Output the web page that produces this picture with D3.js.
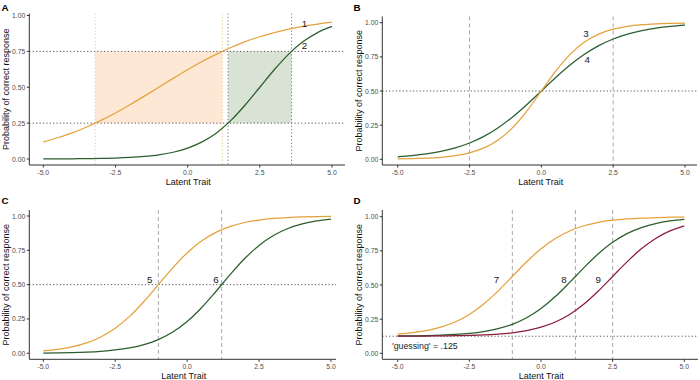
<!DOCTYPE html>
<html>
<head>
<meta charset="utf-8">
<script src="https://cdn.jsdelivr.net/npm/d3@7"></script>
<style>
  body { margin: 0; background: #fff; }
  svg { display: block; font-family: "Liberation Sans", Arial, sans-serif; }
</style>
</head>
<body>
<div id="irt-figure"></div>
<script>
// latent trait grid the curves were read at
const traitPoints = [-5, -4.5, -4, -3.5, -3, -2.5, -2, -1.5, -1, -0.5, 0, 0.5, 1, 1.5, 2, 2.5, 3, 3.5, 4, 4.5, 5];

const xTicks = [-5, -2.5, 0, 2.5, 5];
const xTickLabels = ["-5.0", "-2.5", "0.0", "2.5", "5.0"];
const yTicks = [0, 0.25, 0.5, 0.75, 1];
const yTickLabels = ["0.00", "0.25", "0.50", "0.75", "1.00"];

// panel A
const curveA1 = [0.119, 0.148, 0.182, 0.223, 0.269, 0.321, 0.378, 0.438, 0.500, 0.562, 0.622, 0.679, 0.731, 0.777, 0.818, 0.852, 0.881, 0.905, 0.924, 0.940, 0.953];
const curveA2 = [0.0006, 0.0009, 0.0015, 0.0025, 0.0041, 0.0067, 0.011, 0.018, 0.029, 0.047, 0.076, 0.119, 0.182, 0.269, 0.378, 0.500, 0.622, 0.731, 0.818, 0.881, 0.924];
// panel B
const curveB3 = [0.0025, 0.0045, 0.0082, 0.0148, 0.0266, 0.0474, 0.0832, 0.1419, 0.2315, 0.3543, 0.500, 0.6457, 0.7685, 0.8581, 0.9168, 0.9526, 0.9734, 0.9852, 0.9918, 0.9955, 0.9975];
const curveB4 = [0.018, 0.0266, 0.0392, 0.0573, 0.0832, 0.1192, 0.168, 0.2315, 0.310, 0.4013, 0.500, 0.5987, 0.690, 0.7685, 0.832, 0.8808, 0.9168, 0.9427, 0.9608, 0.9734, 0.982];
// panel C
const curveC5 = [0.018, 0.0293, 0.0474, 0.0759, 0.1192, 0.1824, 0.2689, 0.3775, 0.500, 0.6225, 0.7311, 0.8176, 0.8808, 0.9241, 0.9526, 0.9707, 0.982, 0.989, 0.9933, 0.9959, 0.9975];
const curveC6 = [0.002, 0.0033, 0.0055, 0.009, 0.0148, 0.0241, 0.0392, 0.063, 0.0998, 0.1545, 0.2315, 0.3318, 0.4502, 0.5744, 0.690, 0.7858, 0.8581, 0.9089, 0.9427, 0.9644, 0.9781];
// panel D
const curveD7 = [0.1408, 0.1506, 0.1665, 0.1914, 0.2293, 0.2846, 0.3603, 0.4553, 0.5625, 0.6697, 0.7647, 0.8404, 0.8957, 0.9336, 0.9585, 0.9744, 0.9843, 0.9904, 0.9941, 0.9964, 0.9978];
const curveD8 = [0.1268, 0.1279, 0.1298, 0.1329, 0.138, 0.1461, 0.1593, 0.1801, 0.2123, 0.2602, 0.3276, 0.4153, 0.5189, 0.6276, 0.7288, 0.8126, 0.8758, 0.9203, 0.9499, 0.9689, 0.9808];
const curveD9 = [0.1255, 0.1258, 0.1263, 0.1272, 0.1286, 0.1309, 0.1346, 0.1408, 0.1504, 0.1661, 0.1915, 0.2291, 0.2843, 0.3604, 0.4557, 0.5625, 0.6693, 0.7646, 0.8408, 0.8959, 0.9335];

// reference lines / regions
const bandsA = [[-3.2, 1.2], [1.4, 3.6]];
const hLinesA = [0.25, 0.75];
const hLinesB = [0.5];
const vLinesB = [-2.5, 2.5];
const hLinesC = [0.5];
const vLinesC = [-1, 1.2];
const hLinesD = [0.125];
const vLinesD = [-1, 1.2, 2.5];

const itemLabels = {
  A: [["1", 4.05, 0.945], ["2", 4.05, 0.79]],
  B: [["3", 1.55, 0.92], ["4", 1.6, 0.73]],
  C: [["5", -1.3, 0.54], ["6", 1.0, 0.54]],
  D: [["7", -1.55, 0.54], ["8", 0.8, 0.54], ["9", 2.0, 0.54]]
};

const orange = "#E5A13B", green = "#2A5E2C", maroon = "#8C1D3B";

const svg = d3.select("#irt-figure").append("svg")
    .attr("width", 700).attr("height", 380);

function drawPanel(p) {
  const g = svg.append("g");
  const x = d3.scaleLinear().domain([-5, 5]).range([p.x0, p.x1]);
  const y = d3.scaleLinear().domain([0, 1]).range([p.y0, p.y1]);

  // shaded regions
  (p.bands || []).forEach((b, i) => {
    g.append("rect")
      .attr("x", x(b[0])).attr("width", x(b[1]) - x(b[0]))
      .attr("y", y(0.75)).attr("height", y(0.25) - y(0.75))
      .attr("fill", i == 0 ? "#FDE8D6" : "#D8E3D5");
  });

  // horizontal reference lines
  (p.hLines || []).forEach(v => {
    g.append("line")
      .attr("x1", p.axisX).attr("x2", p.xEnd)
      .attr("y1", y(v)).attr("y2", y(v))
      .attr("stroke", "#555").attr("stroke-width", 1)
      .attr("stroke-dasharray", "1.2,2.2");
  });

  // vertical reference lines
  (p.vLines || []).forEach(v => {
    g.append("line")
      .attr("x1", x(v.at)).attr("x2", x(v.at))
      .attr("y1", p.yTop).attr("y2", p.axisY)
      .attr("stroke", v.color).attr("stroke-width", 1)
      .attr("stroke-dasharray", v.dash);
  });

  // curves
  const line = d3.line()
    .x((d, i) => x(traitPoints[i]))
    .y(d => y(d))
    .curve(d3.curveMonotoneX);
  p.curves.forEach(c => {
    g.append("path")
      .attr("d", line(c.values))
      .attr("fill", "none")
      .attr("stroke", c.color)
      .attr("stroke-width", 1.25);
  });

  // item numbers
  itemLabels[p.name].forEach(l => {
    g.append("text")
      .attr("x", x(l[1])).attr("y", y(l[2]))
      .attr("text-anchor", "middle").attr("dominant-baseline", "central")
      .attr("font-size", 9.8).attr("fill", "#1a1a1a")
      .text(l[0]);
  });

  // axes
  g.append("line")
    .attr("x1", p.axisX).attr("x2", p.axisX)
    .attr("y1", p.yTop).attr("y2", p.axisY)
    .attr("stroke", "#333").attr("stroke-width", 1);
  g.append("line")
    .attr("x1", p.axisX).attr("x2", p.xEnd)
    .attr("y1", p.axisY).attr("y2", p.axisY)
    .attr("stroke", "#333").attr("stroke-width", 1);

  yTicks.forEach((t, i) => {
    g.append("line")
      .attr("x1", p.axisX - 2.5).attr("x2", p.axisX)
      .attr("y1", y(t)).attr("y2", y(t))
      .attr("stroke", "#333");
    g.append("text")
      .attr("x", p.axisX - 4).attr("y", y(t))
      .attr("text-anchor", "end").attr("dominant-baseline", "central")
      .attr("font-size", 6.8).attr("fill", "#4D4D4D")
      .text(yTickLabels[i]);
  });
  xTicks.forEach((t, i) => {
    g.append("line")
      .attr("x1", x(t)).attr("x2", x(t))
      .attr("y1", p.axisY).attr("y2", p.axisY + 2.5)
      .attr("stroke", "#333");
    g.append("text")
      .attr("x", x(t)).attr("y", p.axisY + 7.5)
      .attr("text-anchor", "middle").attr("dominant-baseline", "central")
      .attr("font-size", 6.8).attr("fill", "#4D4D4D")
      .text(xTickLabels[i]);
  });

  // titles
  g.append("text")
    .attr("x", (p.axisX + p.xEnd) / 2 + 1).attr("y", p.axisY + 17)
    .attr("text-anchor", "middle").attr("dominant-baseline", "central")
    .attr("font-size", 9).attr("fill", "#111")
    .text("Latent Trait");
  g.append("text")
    .attr("transform", `translate(${p.axisX - 23.5},${(p.yTop + p.axisY) / 2}) rotate(-90)`)
    .attr("text-anchor", "middle").attr("dominant-baseline", "central")
    .attr("font-size", 9).attr("fill", "#111")
    .text("Probability of correct response");
  g.append("text")
    .attr("x", p.tagX).attr("y", p.tagY)
    .attr("font-size", 9.8).attr("font-weight", "bold").attr("fill", "#000")
    .text(p.name);

  if (p.note) {
    g.append("text")
      .attr("x", x(p.note[1])).attr("y", y(p.note[2]))
      .attr("dominant-baseline", "central")
      .attr("font-size", 8.8).attr("fill", "#1a1a1a")
      .text(p.note[0]);
  }
}

const lightOrange = "#E9CB8E", dotGrey = "#777", dashGrey = "#A8A8A8";

drawPanel({
  name: "A", tagX: 1.5, tagY: 11,
  axisX: 29.3, x0: 43.3, x1: 332, xEnd: 345,
  y0: 159, y1: 15.5, yTop: 13.5, axisY: 165,
  bands: bandsA, hLines: hLinesA,
  vLines: [
    {at: bandsA[0][0], color: lightOrange, dash: "1.2,2.2"},
    {at: bandsA[0][1], color: lightOrange, dash: "1.2,2.2"},
    {at: bandsA[1][0], color: dotGrey, dash: "1.2,2.2"},
    {at: bandsA[1][1], color: dotGrey, dash: "1.2,2.2"}
  ],
  curves: [{values: curveA1, color: orange}, {values: curveA2, color: green}]
});

drawPanel({
  name: "B", tagX: 353.5, tagY: 11,
  axisX: 382.3, x0: 397.7, x1: 685, xEnd: 697,
  y0: 159.3, y1: 22.7, yTop: 16.5, axisY: 165,
  hLines: hLinesB,
  vLines: vLinesB.map(v => ({at: v, color: dashGrey, dash: "4,3"})),
  curves: [{values: curveB4, color: green}, {values: curveB3, color: orange}]
});

drawPanel({
  name: "C", tagX: 1.5, tagY: 204,
  axisX: 29.3, x0: 43.3, x1: 331, xEnd: 336,
  y0: 353.3, y1: 216, yTop: 210, axisY: 359.3,
  hLines: hLinesC,
  vLines: vLinesC.map(v => ({at: v, color: dashGrey, dash: "4,3"})),
  curves: [{values: curveC5, color: orange}, {values: curveC6, color: green}]
});

drawPanel({
  name: "D", tagX: 353.5, tagY: 204,
  axisX: 382.3, x0: 397.7, x1: 684.3, xEnd: 698,
  y0: 353.3, y1: 216.7, yTop: 210, axisY: 359.3,
  hLines: hLinesD,
  vLines: vLinesD.map(v => ({at: v, color: dashGrey, dash: "4,3"})),
  curves: [{values: curveD7, color: orange}, {values: curveD8, color: green}, {values: curveD9, color: maroon}],
  note: ["'guessing' = .125", -5.2, 0.053]
});
</script>
</body>
</html>
